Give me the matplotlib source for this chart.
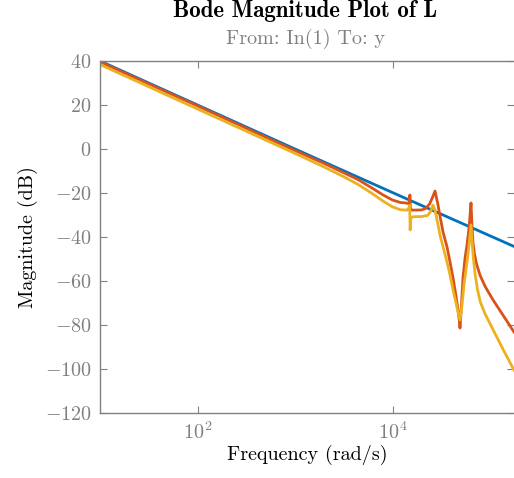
import numpy as np
import matplotlib.pyplot as plt

# -------------------------
# Daten (log10 der Frequenz in rad/s, Betrag in dB)
# -------------------------

blue_exp = [1.0, 3.0, 4.0, 5.246]
blue_db = [40.0, 0.0, -19.8, -44.3]

red_exp = [1.0, 2.0, 3.0, 3.3, 3.5, 3.65, 3.8, 3.9, 4.0, 4.08, 4.15, 4.172,
           4.178, 4.184, 4.2, 4.3, 4.34, 4.38, 4.41, 4.436, 4.45, 4.467,
           4.487, 4.518, 4.559, 4.59, 4.621, 4.651, 4.672, 4.687, 4.692,
           4.703, 4.723, 4.744, 4.764, 4.785, 4.797, 4.805, 4.815, 4.826,
           4.84, 4.86, 4.897, 4.95, 5.031, 5.133, 5.246]
red_db = [39.6, 19.6, -0.7, -6.6, -10.8, -14.0, -18.0, -20.8, -23.2, -24.3,
          -24.6, -25.0, -20.9, -27.2, -27.8, -27.7, -27.0, -25.0, -22.0, -19.1,
          -22.0, -25.5, -30.5, -37.7, -44.5, -51.4, -58.6, -66.8, -73.2, -78.6,
          -81.4, -74.1, -58.6, -49.5, -43.6, -35.9, -29.1, -24.5, -34.5, -42.7,
          -47.5, -52.0, -57.3, -62.5, -68.6, -75.5, -83.2]

orange_exp = [1.0, 2.0, 3.0, 3.3, 3.5, 3.65, 3.8, 3.9, 4.0, 4.08, 4.15, 4.172,
              4.176, 4.181, 4.187, 4.21, 4.3, 4.36, 4.39, 4.415, 4.44, 4.467,
              4.487, 4.559, 4.59, 4.621, 4.651, 4.672, 4.692, 4.713, 4.733,
              4.764, 4.785, 4.805, 4.826, 4.846, 4.87, 4.90, 4.95, 5.03,
              5.133, 5.246]
orange_db = [38.4, 18.2, -2.0, -8.2, -12.6, -16.2, -20.5, -23.6, -26.3, -27.6,
             -27.8, -26.5, -25.5, -36.8, -31.5, -30.8, -30.7, -30.2, -28.5,
             -25.5, -28.5, -34.5, -39.1, -51.4, -57.3, -64.1, -70.0, -74.1,
             -77.7, -70.9, -61.8, -51.4, -43.6, -34.5, -48.2, -56.5, -63.5,
             -69.5, -75.0, -82.0, -91.0, -100.5]

y_ticks = [-120, -100, -80, -60, -40, -20, 0, 20, 40]
x_ticks = [1e2, 1e4]

COLOR_BLUE = "#0072BD"
COLOR_RED = "#D95319"
COLOR_ORANGE = "#EDB120"
AXIS_GRAY = "#808080"
FS = 14.5

# -------------------------
# Stil
# -------------------------

plt.rcParams["font.family"] = "cmr10"
plt.rcParams["mathtext.fontset"] = "cm"
plt.rcParams["axes.formatter.use_mathtext"] = True
plt.rcParams["axes.unicode_minus"] = True

fig = plt.figure(figsize=(5.14, 4.78), dpi=100, facecolor="white")
ax = fig.add_axes([100 / 514, 1 - 413 / 478, 414 / 514, 352 / 478])

ax.plot(10 ** np.array(blue_exp), blue_db, color=COLOR_BLUE, lw=2)
ax.plot(10 ** np.array(red_exp), red_db, color=COLOR_RED, lw=2)
ax.plot(10 ** np.array(orange_exp), orange_db, color=COLOR_ORANGE, lw=2)

ax.set_xscale("log")
ax.set_xlim(10, 10 ** 5.246)
ax.set_ylim(-120, 40)
ax.set_xticks(x_ticks)
ax.xaxis.set_minor_locator(plt.NullLocator())
ax.set_yticks(y_ticks)

for side in ["left", "top", "bottom"]:
    ax.spines[side].set_color(AXIS_GRAY)
    ax.spines[side].set_linewidth(1.0)
ax.spines["right"].set_visible(False)
ax.tick_params(which="both", direction="in", length=5, width=0.8,
               color=AXIS_GRAY, labelcolor=AXIS_GRAY, labelsize=FS,
               top=True, right=True, pad=6)

ax.set_xlabel("Frequency (rad/s)", fontsize=FS, labelpad=1)
ax.set_ylabel("Magnitude (dB)", fontsize=FS, labelpad=5)

fig.text(305 / 514, 1 - 11 / 478, "Bode Magnitude Plot of L", fontsize=16.5,
         family="cmb10", ha="center", va="center")
fig.text(306 / 514, 1 - 39 / 478, "From: In(1) To: y", fontsize=FS,
         color=AXIS_GRAY, ha="center", va="center")

fig.savefig("out.png", dpi=100)
